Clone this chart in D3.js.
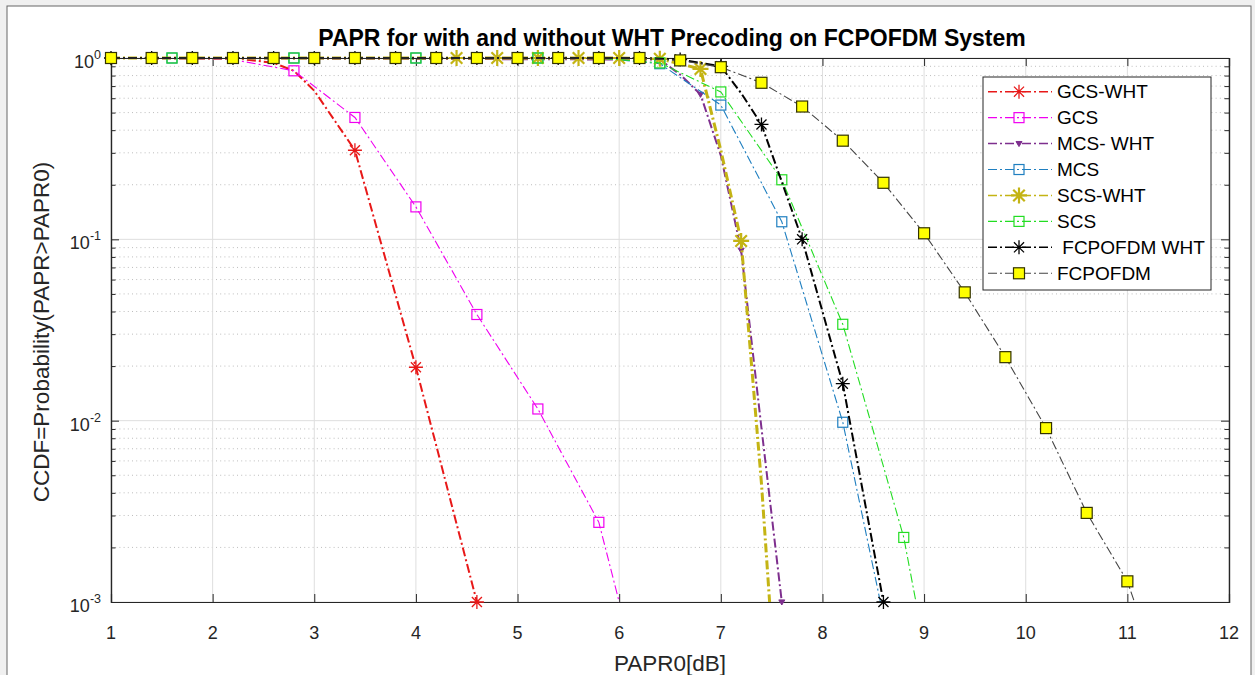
<!DOCTYPE html>
<html><head><meta charset="utf-8">
<script src="https://cdn.jsdelivr.net/npm/d3@7"></script>
<style>
body{margin:0;background:#fff}
svg text{font-family:"Liberation Sans",Arial,Helvetica,sans-serif}
</style>
</head><body>
<svg id="c" width="1255" height="675"></svg>
<script>
// ---------------- data ----------------
const titleText = "PAPR for with and without WHT Precoding on FCPOFDM System";
const xLabelText = "PAPR0[dB]";
const yLabelText = "CCDF=Probability(PAPR>PAPR0)";
const xTickValues = [1,2,3,4,5,6,7,8,9,10,11,12];
const yTickValues = [1e-3,1e-2,1e-1,1];
const yTickExponents = ["-3","-2","-1","0"];
const seriesNames = ["GCS-WHT","GCS","MCS- WHT","MCS","SCS-WHT","SCS"," FCPOFDM WHT","FCPOFDM"];

const gcsWhtX = [1.0,2.2,2.6,2.8,3.0,3.4,4.0,4.6];
const gcsWhtY = [1,1,0.94,0.85,0.66,0.31,0.0197,0.001];
const gcsWhtMarks = [3.4,4.0,4.6];

const gcsX = [1.0,2.2,2.8,3.4,4.0,4.6,5.2,5.8,6.0];
const gcsY = [1,0.98,0.85,0.47,0.151,0.0385,0.0116,0.00275,0.001];
const gcsMarks = [2.8,3.4,4.0,4.6,5.2,5.8];

const mcsWhtX = [1.0,6.4,6.6,6.8,7.0,7.2,7.4,7.6];
const mcsWhtY = [1,0.98,0.81,0.63,0.29,0.087,0.0091,0.001];
const mcsWhtMarks = [6.8,7.2,7.6];

const mcsX = [1.0,1.6,2.2,2.8,3.4,4.0,4.6,5.2,5.8,6.4,7.0,7.6,8.2,8.57];
const mcsY = [1,1,1,1,1,1,1,1,1,0.93,0.55,0.125,0.0098,0.001];
const mcsMarks = [1.0,1.6,2.2,2.8,3.4,4.0,4.6,5.2,5.8,6.4,7.0,7.6,8.2];

const scsWhtX = [1.0,4.4,4.8,5.2,5.6,6.0,6.4,6.8,7.0,7.2,7.4,7.48];
const scsWhtY = [1,1,1,1,1,1,0.99,0.87,0.31,0.098,0.0045,0.001];
const scsWhtMarks = [4.4,4.8,5.2,5.6,6.0,6.4,6.8,7.2];

const scsX = [1.0,1.6,2.2,2.8,3.4,4.0,4.6,5.2,5.8,6.4,7.0,7.6,8.2,8.8,8.92];
const scsY = [1,1,1,1,1,1,1,1,1,0.94,0.65,0.213,0.034,0.00227,0.001];
const scsMarks = [1.0,1.6,2.2,2.8,3.4,4.0,4.6,5.2,5.8,6.4,7.0,7.6,8.2,8.8];

const fcpWhtX = [1.0,1.4,1.8,2.2,2.6,3.0,3.4,3.8,4.2,4.6,5.0,5.4,5.8,6.2,6.6,7.0,7.2,7.4,7.8,8.2,8.6];
const fcpWhtY = [1,1,1,1,1,1,1,1,1,1,1,1,1,1,0.98,0.90,0.64,0.43,0.10,0.016,0.001];
const fcpWhtMarks = [1.0,1.4,1.8,2.2,2.6,3.0,3.4,3.8,4.2,4.6,5.0,5.4,5.8,6.2,6.6,7.0,7.4,7.8,8.2,8.6];

const fcpX = [1.0,1.4,1.8,2.2,2.6,3.0,3.4,3.8,4.2,4.6,5.0,5.4,5.8,6.2,6.6,7.0,7.4,7.8,8.2,8.6,9.0,9.4,9.8,10.2,10.6,11.0,11.07];
const fcpY = [1,1,1,1,1,1,1,1,1,1,1,1,1,1,0.97,0.89,0.73,0.54,0.35,0.205,0.108,0.051,0.0224,0.0091,0.0031,0.0013,0.001];
const fcpMarks = [1.0,1.4,1.8,2.2,2.6,3.0,3.4,3.8,4.2,4.6,5.0,5.4,5.8,6.2,6.6,7.0,7.4,7.8,8.2,8.6,9.0,9.4,9.8,10.2,10.6,11.0];

// ---------------- styles ----------------
const styles = [
  {color:"#e81818", width:2.0, marker:"star", size:7, fill:"none", mw:1.3},
  {color:"#f000f0", width:1.1, marker:"square", size:10, fill:"none", mw:1.2},
  {color:"#7E2F8E", width:2.0, marker:"tri", size:6, fill:"#7E2F8E", mw:1},
  {color:"#1f7fc0", width:1.1, marker:"square", size:10, fill:"none", mw:1.2},
  {color:"#c4b414", width:3.0, marker:"star", size:8, fill:"none", mw:2.2},
  {color:"#22dd22", width:1.1, marker:"square", size:10, fill:"none", mw:1.2},
  {color:"#000000", width:2.0, marker:"star", size:7, fill:"none", mw:1.3},
  {color:"#444444", width:1.1, marker:"square", size:11, fill:"#ffff00", mw:1.2, edge:"#333300"}
];
const seriesData = [
  [gcsWhtX,gcsWhtY,gcsWhtMarks],[gcsX,gcsY,gcsMarks],[mcsWhtX,mcsWhtY,mcsWhtMarks],[mcsX,mcsY,mcsMarks],
  [scsWhtX,scsWhtY,scsWhtMarks],[scsX,scsY,scsMarks],[fcpWhtX,fcpWhtY,fcpWhtMarks],[fcpX,fcpY,fcpMarks]
];

// ---------------- layout ----------------
const L=111, R=1229, T=58, B=602;
const svg = d3.select("#c");
const x = d3.scaleLinear().domain([1,12]).range([L,R]);
const y = d3.scaleLog().domain([1e-3,1]).range([B,T]);
const axisColor="#262626";

// outer frame
svg.append("rect").attr("x",0).attr("y",0).attr("width",1255).attr("height",675).attr("fill","#f0f0f0");
svg.append("rect").attr("x",7).attr("y",6).attr("width",1244).attr("height",700).attr("fill","#fff").attr("stroke","#666").attr("stroke-width",1);

// grid
const grid = svg.append("g");
const minorVals = [];
[1e-3,1e-2,1e-1].forEach(d=>{ for(let k=2;k<=9;k++) minorVals.push(d*k); });
grid.selectAll("line.mn").data(minorVals).join("line")
  .attr("x1",L).attr("x2",R).attr("y1",d=>y(d)).attr("y2",d=>y(d))
  .attr("stroke","#bdbdbd").attr("stroke-width",1).attr("stroke-dasharray","1,3.2");
grid.selectAll("line.mx").data(yTickValues).join("line")
  .attr("x1",L).attr("x2",R).attr("y1",d=>y(d)).attr("y2",d=>y(d))
  .attr("stroke","#dedede").attr("stroke-width",1);
grid.selectAll("line.vx").data(xTickValues).join("line")
  .attr("x1",d=>x(d)).attr("x2",d=>x(d)).attr("y1",T).attr("y2",B)
  .attr("stroke","#dedede").attr("stroke-width",1);

// axes (ticks inward)
const axG = svg.append("g");
axG.append("g").attr("transform",`translate(0,${B})`)
  .call(d3.axisBottom(x).tickValues(xTickValues).tickSize(-8).tickFormat(""));
axG.append("g").attr("transform",`translate(0,${T})`)
  .call(d3.axisTop(x).tickValues(xTickValues).tickSize(-8).tickFormat(""));
axG.append("g").attr("transform",`translate(${L},0)`)
  .call(d3.axisLeft(y).tickValues(yTickValues).tickSize(-8).tickFormat(""));
axG.append("g").attr("transform",`translate(${R},0)`)
  .call(d3.axisRight(y).tickValues(yTickValues).tickSize(-8).tickFormat(""));
axG.append("g").attr("transform",`translate(${L},0)`)
  .call(d3.axisLeft(y).tickValues(minorVals).tickSize(-4.5).tickFormat(""));
axG.append("g").attr("transform",`translate(${R},0)`)
  .call(d3.axisRight(y).tickValues(minorVals).tickSize(-4.5).tickFormat(""));
axG.selectAll(".domain").attr("stroke",axisColor).attr("stroke-width",1.2);
axG.selectAll(".tick line").attr("stroke",axisColor).attr("stroke-width",1);

// tick labels
svg.append("g").selectAll("text").data(xTickValues).join("text")
  .attr("x",d=>x(d)).attr("y",B+37).attr("text-anchor","middle")
  .attr("font-size",18).attr("fill",axisColor).text(d=>d);
const ytl = svg.append("g").selectAll("text").data(yTickValues).join("text")
  .attr("x",L-10).attr("y",d=>y(d)+10).attr("text-anchor","end")
  .attr("font-size",18).attr("fill",axisColor);
ytl.append("tspan").text("10");
ytl.append("tspan").attr("dy",-9).attr("font-size",12.5).text((d,i)=>yTickExponents[i]);

// labels
svg.append("text").attr("x",(L+R)/2+2).attr("y",46).attr("text-anchor","middle")
  .attr("font-size",23).attr("font-weight","bold").attr("fill","#000").text(titleText);
svg.append("text").attr("x",(L+R)/2).attr("y",671).attr("text-anchor","middle")
  .attr("font-size",22.5).attr("fill",axisColor).text(xLabelText);
svg.append("text").attr("transform",`translate(49,${(T+B)/2+2}) rotate(-90)`).attr("text-anchor","middle")
  .attr("font-size",22.5).attr("fill",axisColor).text(yLabelText);

// markers
function drawMarker(g, st, cx, cy){
  if(st.marker==="square"){
    const s=st.size;
    g.append("rect").attr("x",cx-s/2).attr("y",cy-s/2).attr("width",s).attr("height",s)
      .attr("fill",st.fill).attr("stroke",st.edge||st.color).attr("stroke-width",st.mw);
  } else if(st.marker==="star"){
    const r=st.size, k=r*0.72;
    g.append("path").attr("d",`M${cx-r},${cy}L${cx+r},${cy}M${cx},${cy-r}L${cx},${cy+r}M${cx-k},${cy-k}L${cx+k},${cy+k}M${cx-k},${cy+k}L${cx+k},${cy-k}`)
      .attr("stroke",st.color).attr("stroke-width",st.mw).attr("fill","none");
  } else if(st.marker==="tri"){
    const s=st.size/2;
    g.append("path").attr("d",`M${cx-s},${cy-s*0.7}L${cx+s},${cy-s*0.7}L${cx},${cy+s}Z`)
      .attr("fill",st.fill).attr("stroke",st.color).attr("stroke-width",st.mw);
  }
}

// plot
svg.append("clipPath").attr("id","clip").append("rect").attr("x",L-8).attr("y",T-8).attr("width",R-L+16).attr("height",B-T+16);
const plot = svg.append("g").attr("clip-path","url(#clip)");
const line = d3.line().x(d=>x(d[0])).y(d=>y(d[1]));
seriesData.forEach(([xs,ys,ms],i)=>{
  const st=styles[i];
  const pts = xs.map((v,j)=>[v,ys[j]]);
  const g = plot.append("g");
  g.append("path").datum(pts).attr("d",line).attr("fill","none")
    .attr("stroke",st.color).attr("stroke-width",st.width)
    .attr("stroke-dasharray","9,3,2,3");
  pts.filter(p=>ms.some(m=>Math.abs(m-p[0])<1e-6)).forEach(p=>drawMarker(g,st,x(p[0]),y(p[1])));
});

// legend
const lg = svg.append("g");
const lx=983, ly=77, lw=228, lh=213, rowH=25.94, row0=91.7;
lg.append("rect").attr("x",lx).attr("y",ly).attr("width",lw).attr("height",lh).attr("fill","#fff").attr("stroke",axisColor).attr("stroke-width",1);
seriesNames.forEach((name,i)=>{
  const st=styles[i], cy=row0+i*rowH;
  lg.append("line").attr("x1",988).attr("x2",1052).attr("y1",cy).attr("y2",cy)
    .attr("stroke",st.color).attr("stroke-width",Math.min(st.width,1.5)).attr("stroke-dasharray","9,3,2,3");
  drawMarker(lg,st,1019,cy);
  lg.append("text").attr("x",1057).attr("y",cy+6.5).attr("font-size",19).attr("fill","#000")
    .style("white-space","pre").text(name);
});
</script>
</body></html>
